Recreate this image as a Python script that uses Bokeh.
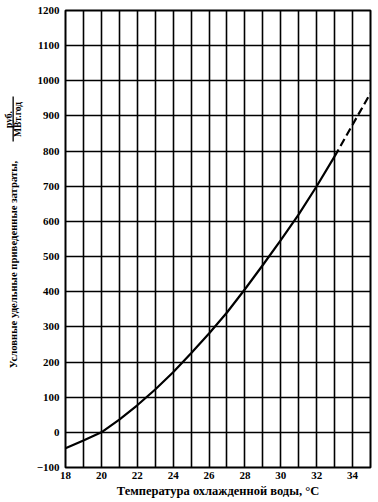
from bokeh.plotting import figure
from bokeh.layouts import row
from bokeh.models import FixedTicker, Label, BoxAnnotation, Range1d
from bokeh.embed import file_html
from bokeh.resources import INLINE
import math

# Data
temperature = [18, 19, 20, 21, 22, 23, 24, 25, 26, 27, 28, 29, 30, 31, 32, 33, 34, 35]
cost = [-45, -23, 0, 36, 77, 122, 171, 225, 281, 341, 407, 476, 547, 620, 700, 785, 875, 965]
solid_end = 33  # the curve is dashed (extrapolated) beyond this temperature

x_tick_values = [18, 20, 22, 24, 26, 28, 30, 32, 34]
y_tick_values = list(range(-100, 1300, 100))
x_grid_values = list(range(18, 36))

x_label = "Температура охлажденной воды, °C"
y_label = "Условные удельные приведенные затраты,"
y_unit_num = "руб."
y_unit_den = "МВт.год"

FONT = "Liberation Serif"

# ---------------- main chart ----------------
p = figure(width=348, height=502, output_backend="svg", toolbar_location=None,
           x_range=Range1d(18, 35), y_range=Range1d(-100, 1200),
           min_border_left=35, min_border_right=8, min_border_top=10, min_border_bottom=35)
p.background_fill_color = "white"
p.border_fill_color = "white"
p.outline_line_color = "black"
p.outline_line_width = 2

p.xgrid.ticker = FixedTicker(ticks=x_grid_values)
p.ygrid.ticker = FixedTicker(ticks=y_tick_values)
for g in (p.xgrid, p.ygrid):
    g.grid_line_color = "black"
    g.grid_line_width = 1.6
    g.grid_line_alpha = 1.0

p.xaxis.ticker = FixedTicker(ticks=x_tick_values)
p.yaxis.ticker = FixedTicker(ticks=y_tick_values)
for ax in (p.xaxis, p.yaxis):
    ax.axis_line_color = None
    ax.major_tick_line_color = None
    ax.minor_tick_line_color = None
    ax.major_tick_out = 0
    ax.major_tick_in = 0
    ax.major_label_text_font = FONT
    ax.major_label_text_font_style = "bold"
    ax.major_label_text_font_size = "11px"
    ax.major_label_text_color = "black"
p.yaxis.major_label_standoff = 6
p.xaxis.major_label_standoff = 4
p.xaxis.axis_label = x_label
p.xaxis.axis_label_text_font = FONT
p.xaxis.axis_label_text_font_style = "bold"
p.xaxis.axis_label_text_font_size = "12.5px"
p.xaxis.axis_label_text_color = "black"
p.xaxis.axis_label_standoff = 2

solid_x = [t for t in temperature if t <= solid_end]
solid_y = cost[:len(solid_x)]
dash_x = [t for t in temperature if t >= solid_end]
dash_y = cost[len(solid_x) - 1:]
p.line(solid_x, solid_y, line_color="black", line_width=2.2)
p.line(dash_x, dash_y, line_color="black", line_width=2.2, line_dash="8 4")

# ---------------- y-axis title strip (left) ----------------
# (its frame is aligned with the main frame by the row layout: screen y is
#  measured from the main frame's bottom edge)
q = figure(width=30, height=502, output_backend="svg", toolbar_location=None,
           x_axis_location=None, y_axis_location=None,
           x_range=Range1d(0, 30), y_range=Range1d(0, 502),
           min_border=0, min_border_left=0, min_border_right=0,
           min_border_top=0, min_border_bottom=0)
q.outline_line_color = None
q.xgrid.visible = False
q.ygrid.visible = False
q.background_fill_color = "white"
q.border_fill_color = "white"

common = dict(x_units="screen", y_units="screen", angle=math.pi / 2,
              text_font=FONT, text_font_style="bold", text_color="black",
              text_align="center", text_baseline="middle")
q.add_layout(Label(x=12, y=203, text=y_label, text_font_size="10.7px", **common))
q.add_layout(Label(x=8, y=348, text=y_unit_num, text_font_size="9.5px", **common))
q.add_layout(Label(x=17.5, y=348, text=y_unit_den, text_font_size="9.5px", **common))
q.add_layout(BoxAnnotation(left=12, right=13.3, bottom=326, top=371,
                           left_units="screen", right_units="screen",
                           bottom_units="screen", top_units="screen",
                           fill_color="black", fill_alpha=1, line_color=None))

layout = row(q, p)
open("out.html", "w").write(file_html(layout, INLINE))
